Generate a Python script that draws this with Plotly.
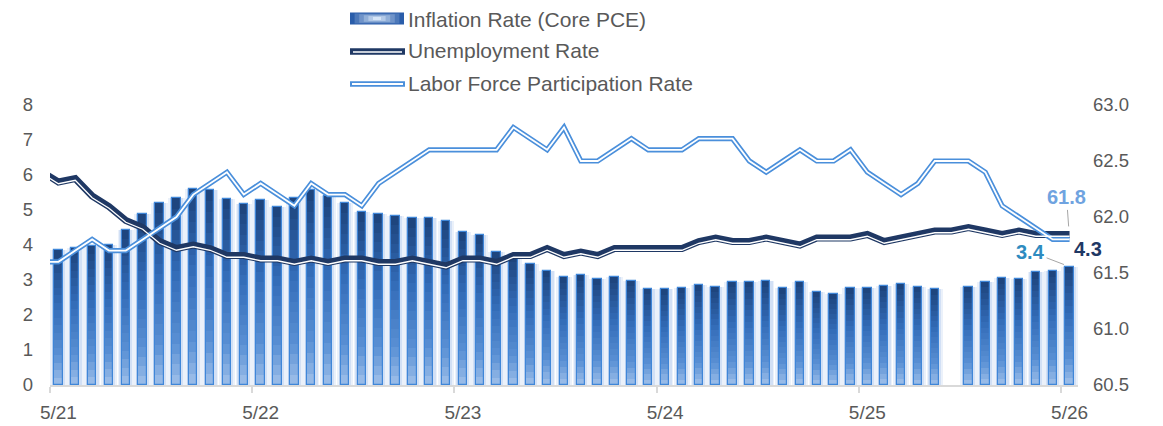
import plotly.graph_objects as go

# ---------------- data ----------------
# months of the bar series (May 2021 .. May 2026)
bar_months = [f"{y}-{m:02d}" for y in range(2021, 2027) for m in range(1, 13)
              if (y, m) >= (2021, 5) and (y, m) <= (2026, 5)]
# line series start one month earlier (Apr 2021)
line_months = ["2021-04"] + bar_months

tick_months = ["2021-05", "2022-05", "2023-05", "2024-05", "2025-05", "2026-05"]
tick_labels = ["5/21", "5/22", "5/23", "5/24", "5/25", "5/26"]

inflation_core_pce = [
    3.85, 3.92, 3.97, 4.00, 4.42, 4.88, 5.19, 5.33, 5.59, 5.57, 5.32, 5.16,
    5.30, 5.09, 5.33, 5.57, 5.40, 5.19, 4.94, 4.90, 4.84, 4.76, 4.77, 4.70,
    4.36, 4.28, 3.80, 3.71, 3.45, 3.27, 3.09, 3.14, 3.04, 3.09, 2.98, 2.74,
    2.73, 2.78, 2.85, 2.81, 2.95, 2.95, 2.97, 2.76, 2.95, 2.65, 2.60, 2.76,
    2.78, 2.84, 2.89, 2.81, 2.73, None, 2.81, 2.95, 3.07, 3.02, 3.22, 3.27, 3.38,
]
unemployment_rate = [
    6.1,
    5.8, 5.9, 5.4, 5.1, 4.7, 4.5, 4.1, 3.9, 4.0, 3.9, 3.7, 3.7,
    3.6, 3.6, 3.5, 3.6, 3.5, 3.6, 3.6, 3.5, 3.5, 3.6, 3.5, 3.4,
    3.6, 3.6, 3.5, 3.7, 3.7, 3.9, 3.7, 3.8, 3.7, 3.9, 3.9, 3.9,
    3.9, 3.9, 4.1, 4.2, 4.1, 4.1, 4.2, 4.1, 4.0, 4.2, 4.2, 4.2,
    4.3, 4.1, 4.2, 4.3, 4.4, 4.4, 4.5, 4.4, 4.3, 4.4, 4.3, 4.3, 4.3,
]
labor_force_participation = [
    61.6,
    61.6, 61.7, 61.8, 61.7, 61.7, 61.8, 61.9, 62.0, 62.2, 62.3, 62.4, 62.2,
    62.3, 62.2, 62.1, 62.3, 62.2, 62.2, 62.1, 62.3, 62.4, 62.5, 62.6, 62.6,
    62.6, 62.6, 62.6, 62.8, 62.7, 62.6, 62.8, 62.5, 62.5, 62.6, 62.7, 62.6,
    62.6, 62.6, 62.7, 62.7, 62.7, 62.5, 62.4, 62.5, 62.6, 62.5, 62.5, 62.6,
    62.4, 62.3, 62.2, 62.3, 62.5, 62.5, 62.5, 62.4, 62.1, 62.0, 61.9, 61.8, 61.8,
]


def pos(month):
    y, m = int(month[:4]), int(month[5:])
    return (y - 2021) * 12 + (m - 5)


xb = [pos(m) for m in bar_months]
xl = [pos(m) for m in line_months]
label_vals = [pos(m) for m in tick_months]          # labels sit on the month
boundary_vals = [pos(m) - 0.5 for m in tick_months]  # tick marks between months

# ---------------- style ----------------
FONT = "Liberation Sans, Arial, sans-serif"
GREY = "#595959"
NAVY = "#1F3864"
LBLUE = "#4A8FDB"
W, H = 1163, 426
ML, MR, MT, MB = 50, 85, 105, 41
PW, PH = W - ML - MR, H - MT - MB


def hex2rgb(h):
    h = h.lstrip("#")
    return tuple(int(h[i:i + 2], 16) for i in (0, 2, 4))


def lerp(c1, c2, t):
    a, b = hex2rgb(c1), hex2rgb(c2)
    return "rgb(%d,%d,%d)" % tuple(round(a[i] + (b[i] - a[i]) * t) for i in range(3))


def grad(stops, t):
    for (t0, c0), (t1, c1) in zip(stops, stops[1:]):
        if t <= t1:
            return lerp(c0, c1, (t - t0) / (t1 - t0))
    return stops[-1][1]


fig = go.Figure()

# glow behind bars
for wdt, col in [(0.98, "rgba(100,150,220,0.13)"), (0.76, "rgba(100,150,220,0.18)")]:
    fig.add_trace(go.Bar(x=xb, y=inflation_core_pce, width=wdt,
                         marker=dict(color=col, line=dict(width=0)),
                         showlegend=False, hoverinfo="skip"))

# vertical gradient bars (bottom light -> top dark)
N = 18
stops = [(0.0, "#A0C0EA"), (0.22, "#5A90D4"), (0.6, "#326BB7"), (1.0, "#1C427A")]
for i in range(N):
    base = [None if v is None else v * i / N for v in inflation_core_pce]
    seg = [None if v is None else v / N for v in inflation_core_pce]
    fig.add_trace(go.Bar(x=xb, y=seg, base=base, width=0.5,
                         marker=dict(color=grad(stops, (i + 0.5) / N), line=dict(width=0)),
                         showlegend=False, hoverinfo="skip"))

fig.add_trace(go.Bar(x=xb, y=inflation_core_pce, width=0.5, name="Inflation Rate (Core PCE)",
                     marker=dict(color="rgba(0,0,0,0)", line=dict(color="#3F86D8", width=1.2)),
                     showlegend=False))

# unemployment: thick-thin compound line
fig.add_trace(go.Scatter(x=xl, y=unemployment_rate, mode="lines", name="Unemployment Rate",
                         line=dict(color=NAVY, width=7), showlegend=False))
fig.add_trace(go.Scatter(x=xl, y=unemployment_rate, mode="lines", yaxis="y3",
                         line=dict(color="white", width=1.3), showlegend=False, hoverinfo="skip"))

# labor force participation: double line
fig.add_trace(go.Scatter(x=xl, y=labor_force_participation, mode="lines", yaxis="y2",
                         name="Labor Force Participation Rate",
                         line=dict(color=LBLUE, width=5.2), showlegend=False))
fig.add_trace(go.Scatter(x=xl, y=labor_force_participation, mode="lines", yaxis="y2",
                         line=dict(color="white", width=1.8), showlegend=False, hoverinfo="skip"))


def px(x):
    return (x - ML) / PW


def py(y):
    return (H - MB - y) / PH


shapes = []
# legend: inflation gradient swatch
L = 6
for i in range(L):
    t = i / (L - 1)
    shapes.append(dict(type="rect", xref="paper", yref="paper",
                       x0=px(350 + i * 4.6), x1=px(404 - i * 4.6),
                       y0=py(24.5 - i * 0.9), y1=py(12.5 + i * 0.9),
                       fillcolor=lerp("#2A5DAA", "#D6E5F7", t), line=dict(width=0), layer="above"))
# legend: unemployment
shapes.append(dict(type="line", xref="paper", yref="paper", x0=px(350), x1=px(405),
                   y0=py(51.5), y1=py(51.5), line=dict(color=NAVY, width=6.5), layer="above"))
shapes.append(dict(type="line", xref="paper", yref="paper", x0=px(353), x1=px(402),
                   y0=py(52), y1=py(52), line=dict(color="white", width=1.3), layer="above"))
# legend: lfpr
shapes.append(dict(type="line", xref="paper", yref="paper", x0=px(350), x1=px(405),
                   y0=py(84), y1=py(84), line=dict(color=LBLUE, width=5.5), layer="above"))
shapes.append(dict(type="line", xref="paper", yref="paper", x0=px(352), x1=px(403),
                   y0=py(84), y1=py(84), line=dict(color="white", width=2), layer="above"))

annotations = []
for txt, yy in [("Inflation Rate (Core PCE)", 19), ("Unemployment Rate", 50),
                ("Labor Force Participation Rate", 83)]:
    annotations.append(dict(text=txt, xref="paper", yref="paper", x=px(406), y=py(yy),
                            xanchor="left", yanchor="middle", showarrow=False,
                            font=dict(family=FONT, size=21, color=GREY)))

# end-point data labels
last = len(bar_months) - 1
annotations.append(dict(x=xl[-1], y=labor_force_participation[-1], xref="x", yref="y2",
                        text=f"<b>{labor_force_participation[-1]:.1f}</b>", showarrow=True,
                        arrowhead=0, arrowwidth=1, arrowcolor="#A6A6A6", ax=-3, ay=-42,
                        standoff=13, font=dict(family=FONT, size=20, color="#6FA3E0")))
annotations.append(dict(x=xl[-1], y=unemployment_rate[-1], xref="x", yref="y",
                        text=f"<b>{unemployment_rate[-1]:.1f}</b>", showarrow=False,
                        xshift=18, yshift=-14, font=dict(family=FONT, size=20, color=NAVY)))
annotations.append(dict(x=xb[last], y=inflation_core_pce[last], xref="x", yref="y",
                        text=f"<b>{inflation_core_pce[last]:.1f}</b>", showarrow=True,
                        arrowhead=0, arrowwidth=1, arrowcolor="#A6A6A6", ax=-39, ay=-15,
                        standoff=6, font=dict(family=FONT, size=20, color="#2E8BC0")))

fig.update_layout(
    width=W, height=H, margin=dict(l=ML, r=MR, t=MT, b=MB, pad=0, autoexpand=False),
    paper_bgcolor="white", plot_bgcolor="white",
    barmode="overlay", bargap=0, showlegend=False,
    shapes=shapes, annotations=annotations,
    xaxis=dict(range=[-0.5, 60.5], tickmode="array", tickvals=label_vals, ticktext=tick_labels,
               ticks="", showline=True, linecolor="#D9D9D9", linewidth=1.5, automargin=False,
               minor=dict(tickmode="array", tickvals=boundary_vals, ticks="outside",
                          ticklen=6, tickwidth=1.5, tickcolor="#D9D9D9", showgrid=False),
               showgrid=False, zeroline=False,
               tickfont=dict(family=FONT, size=19, color=GREY), ticklabelstandoff=9),
    yaxis=dict(range=[0, 8], dtick=1, showgrid=False, zeroline=False, showline=False,
               automargin=False,
               tickfont=dict(family=FONT, size=18.5, color=GREY), ticklabelstandoff=16),
    yaxis2=dict(range=[60.5, 63.0], dtick=0.5, tickformat=".1f", overlaying="y", side="right",
                showgrid=False, zeroline=False, showline=False, automargin=False,
                tickfont=dict(family=FONT, size=18.5, color=GREY), ticklabelstandoff=14),
    yaxis3=dict(range=[0.05, 8.05], overlaying="y", visible=False, automargin=False),
)

fig.write_html("out.html", config={"displayModeBar": False},
               post_script="document.body.style.margin='0px';")
